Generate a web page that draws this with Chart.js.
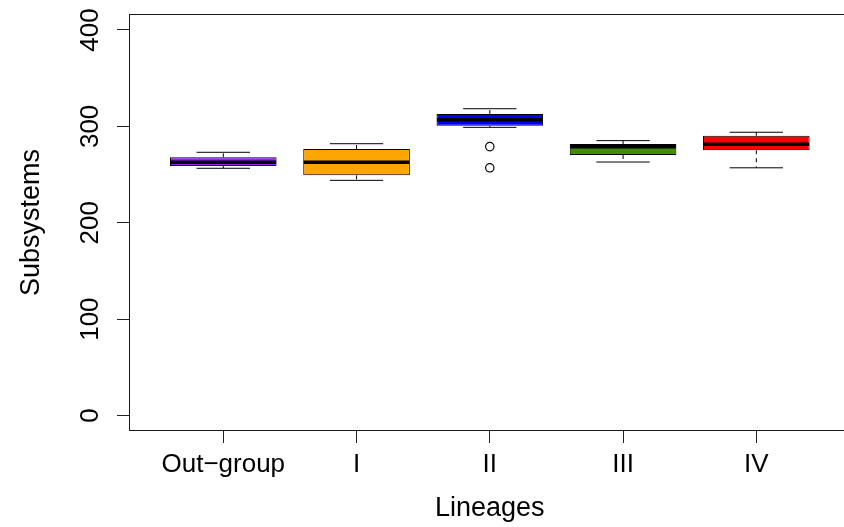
<!DOCTYPE html>
<html>
<head>
<meta charset="utf-8">
<script src="https://cdn.jsdelivr.net/npm/chart.js@4.4.1/dist/chart.umd.min.js"></script>
<style>
  html, body { margin: 0; padding: 0; background: #fff; overflow: hidden; }
  #wrap { width: 844px; height: 527px; overflow: hidden; }
  canvas { display: block; }
</style>
</head>
<body>
<div id="wrap"><canvas id="c" width="855" height="527"></canvas></div>
<script>
// ---- data ----
const categories   = ["Out\u2212group", "I", "II", "III", "IV"];
const whiskerLow   = [256.5, 244.0, 299.0, 263.0, 257.0];
const q1           = [258.9, 249.2, 300.7, 270.3, 275.2];
const median       = [262.7, 262.7, 306.9, 278.9, 281.4];
const q3           = [267.9, 276.5, 312.8, 281.7, 290.3];
const whiskerHigh  = [273.1, 282.0, 318.3, 285.2, 293.9];
const outliers     = [[], [], [279, 257], [], []];
const boxColors    = ["#A020F0", "#FFA500", "#0000FF", "#458B00", "#FF0000"];
const yTickValues  = [0, 100, 200, 300, 400];
const yTickLabels  = ["0", "100", "200", "300", "400"];
const xTitle = "Lineages";
const yTitle = "Subsystems";

const FONT = "'Liberation Sans', Arial, Helvetica, sans-serif";

const boxData = categories.map((c, i) => ({ x: i + 1, y: [q1[i], q3[i]] }));
const outlierData = [];
outliers.forEach((arr, i) => arr.forEach(v => outlierData.push({ x: i + 1, y: v })));

const boxExtras = {
  id: 'boxExtras',
  afterDatasetsDraw(chart) {
    const { ctx, scales: { x, y } } = chart;
    const meta = chart.getDatasetMeta(0);
    const seg = (x1, y1, x2, y2) => { ctx.beginPath(); ctx.moveTo(x1, y1); ctx.lineTo(x2, y2); ctx.stroke(); };
    ctx.save();
    ctx.strokeStyle = '#000';
    categories.forEach((c, i) => {
      const bar = meta.data[i];
      const cx = x.getPixelForValue(i + 1);
      const half = bar.width / 2;
      // dashed whiskers
      ctx.lineWidth = 1;
      ctx.setLineDash([4, 4]);
      seg(cx, y.getPixelForValue(q3[i]), cx, y.getPixelForValue(whiskerHigh[i]));
      seg(cx, y.getPixelForValue(q1[i]), cx, y.getPixelForValue(whiskerLow[i]));
      ctx.setLineDash([]);
      // staples
      const yh = y.getPixelForValue(whiskerHigh[i]);
      const yl = y.getPixelForValue(whiskerLow[i]);
      seg(cx - half / 2, yh, cx + half / 2, yh);
      seg(cx - half / 2, yl, cx + half / 2, yl);
      // median
      ctx.lineWidth = 3.5;
      const ym = y.getPixelForValue(median[i]);
      seg(cx - half + 0.5, ym, cx + half - 0.5, ym);
    });
    ctx.restore();
  },
  afterDraw(chart) {
    const { ctx, chartArea: a, scales: { y } } = chart;
    ctx.save();
    // frame
    ctx.strokeStyle = '#1a1a1a';
    ctx.lineWidth = 1;
    ctx.strokeRect(Math.round(a.left) - 0.5, Math.round(a.top) + 0.5,
                   Math.round(a.right - a.left) + 20, Math.round(a.bottom - a.top) - 1);
    // rotated y tick labels (R style, parallel to the axis)
    ctx.fillStyle = '#000';
    ctx.font = "26px " + FONT;
    ctx.textAlign = 'center';
    ctx.textBaseline = 'alphabetic';
    yTickValues.forEach((v, i) => {
      const py = y.getPixelForValue(v);
      ctx.save();
      ctx.translate(98, py);
      ctx.rotate(-Math.PI / 2);
      ctx.fillText(yTickLabels[i], 0, 0);
      ctx.restore();
    });
    ctx.restore();
  }
};

new Chart(document.getElementById('c'), {
  type: 'bar',
  data: {
    datasets: [
      {
        type: 'bar',
        label: 'box',
        data: boxData,
        backgroundColor: boxColors,
        borderColor: '#000',
        borderWidth: 1,
        borderSkipped: false,
        barPercentage: 0.8,
        categoryPercentage: 1.0
      },
      {
        type: 'line',
        label: 'outliers',
        data: outlierData,
        showLine: false,
        pointStyle: 'circle',
        pointRadius: 4.2,
        pointBorderWidth: 1.2,
        pointBackgroundColor: '#fff',
        pointBorderColor: '#000'
      }
    ]
  },
  options: {
    responsive: false,
    animation: false,
    devicePixelRatio: 1,
    layout: { padding: { top: 14, left: 0, right: 0, bottom: 0 } },
    plugins: { legend: { display: false }, tooltip: { enabled: false } },
    scales: {
      x: {
        type: 'linear',
        min: 0.3,
        max: 5.7,
        offset: false,
        afterBuildTicks: s => { s.ticks = categories.map((c, i) => ({ value: i + 1 })); },
        afterFit: s => { s.height = 96; },
        grid: { offset: false, drawOnChartArea: false, drawTicks: true, tickLength: 12, color: '#222', lineWidth: 1 },
        border: { display: false },
        ticks: {
          padding: 6,
          color: '#000',
          font: { family: FONT, size: 26 },
          maxRotation: 0, minRotation: 0,
          callback: v => categories[v - 1]
        },
        title: {
          display: true, text: xTitle, color: '#000',
          font: { family: FONT, size: 27 },
          padding: { top: 0, bottom: 2 }
        }
      },
      y: {
        type: 'linear',
        min: -16.1,
        max: 416.6,
        afterBuildTicks: s => { s.ticks = yTickValues.map(v => ({ value: v })); },
        afterFit: s => { s.width = 130; },
        grid: { drawOnChartArea: false, drawTicks: true, tickLength: 13, color: '#222', lineWidth: 1 },
        border: { display: false },
        ticks: { display: false },
        title: {
          display: true, text: yTitle, color: '#000',
          font: { family: FONT, size: 27 },
          padding: { top: 15, bottom: 0 }
        }
      }
    }
  },
  plugins: [boxExtras]
});
</script>
</body>
</html>
